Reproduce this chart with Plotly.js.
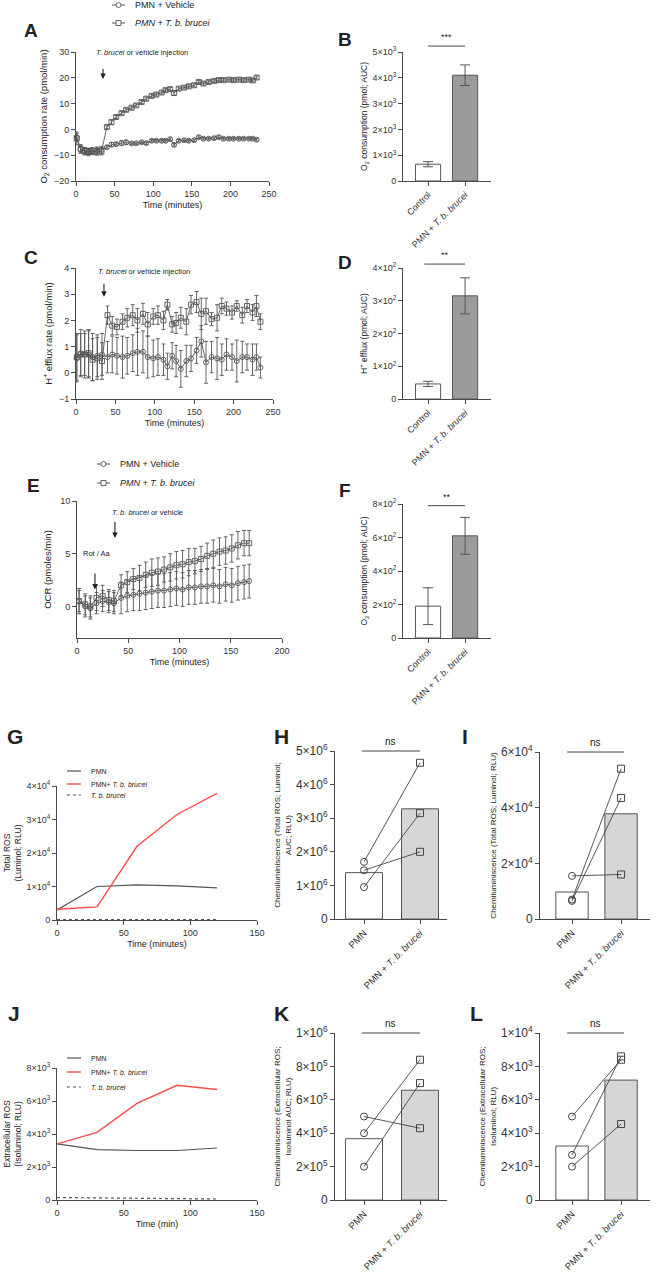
<!DOCTYPE html>
<html><head><meta charset="utf-8">
<script src="https://cdn.plot.ly/plotly-3.0.1.min.js"></script>
<style>html,body{margin:0;padding:0;background:#fff}#chart{width:656px;height:1272px}</style>
</head><body><div id="chart"></div>
<script>
// ---------------- DATA ----------------
// Panel A: O2 consumption rate (pmol/min)
const timeA = [1,6,11,16,21,27,33,40,46,52,59,65,72,78,85,91,98,104,111,116,122,127,133,140,146,153,159,165,172,179,185,191,198,204,211,217,224,229,234];
const vehA = [-3.0,-7.8,-8.2,-8.5,-8.3,-8.0,-7.9,-6.9,-5.9,-5.7,-5.3,-5.0,-5.4,-5.4,-5.0,-5.3,-4.4,-4.4,-4.4,-4.4,-3.8,-6.0,-4.4,-4.2,-4.4,-4.2,-3.0,-3.6,-3.6,-3.4,-3.0,-3.6,-3.6,-3.6,-3.6,-3.6,-3.6,-3.6,-4.0];
const vehAerr = [1.5,1.4,1.2,1.2,1.2,1.2,1.3,0.6,0.8,0.6,0.9,0.8,0.5,0.5,0.5,0.5,0.5,0.5,0.5,0.5,0.5,0.5,0.5,0.5,0.5,0.5,0.5,0.5,0.5,0.5,0.5,0.5,0.5,0.5,0.5,0.5,0.5,0.5,0.5];
const tbA = [-3.5,-7.5,-8.5,-8.8,-8.5,-8.7,-8.5,0.9,2.8,4.8,6.3,7.6,8.4,9.3,10.6,11.9,13.0,13.5,14.3,15.2,15.6,14.1,15.8,16.2,16.7,17.1,18.4,17.8,18.4,18.8,19.1,19.1,19.3,19.1,19.3,19.1,19.3,19.0,20.1];
const tbAerr = [2.5,1.6,1.4,1.4,1.3,1.3,1.4,0.7,0.8,0.6,0.6,0.6,0.6,0.6,0.6,0.6,0.6,0.6,0.6,0.6,0.6,0.8,0.6,0.6,0.6,0.6,0.6,0.6,0.6,0.6,0.6,0.6,0.6,0.6,0.6,0.6,0.6,0.6,0.6];
// Panel C: H+ efflux rate (pmol/min)
const vehC = [0.55,0.75,0.7,0.7,0.6,0.65,0.7,0.6,0.7,0.65,0.6,0.65,0.75,0.8,0.8,0.6,0.55,0.6,0.5,0.25,0.65,0.45,0.15,0.45,0.55,0.85,1.2,0.4,0.6,0.55,0.5,0.7,0.6,0.45,0.6,0.6,0.5,0.6,0.2];
const vehCerr = [0.9,0.9,0.8,0.9,0.9,0.8,0.8,0.6,0.7,0.7,0.8,0.7,0.7,0.9,0.8,0.8,0.7,0.7,0.6,0.5,0.5,0.6,0.7,0.6,0.5,0.5,0.6,0.8,0.6,0.8,0.6,0.6,0.5,0.8,0.6,0.5,0.6,0.5,0.4];
const tbC = [0.6,0.7,0.7,0.75,0.5,0.55,0.45,2.2,1.8,1.75,1.95,2.1,2.2,2.0,2.25,1.85,2.15,2.2,2.0,2.6,1.85,1.9,2.1,1.95,2.6,2.7,2.25,2.35,2.05,2.1,2.55,2.45,2.3,2.55,2.2,2.55,2.3,2.55,1.95];
const tbCerr = [0.9,0.8,0.9,0.9,0.8,0.8,0.7,0.35,0.35,0.3,0.3,0.35,0.4,0.45,0.4,0.45,0.3,0.35,0.35,0.2,0.3,0.4,0.4,0.5,0.35,0.4,0.6,0.5,0.25,0.5,0.3,0.25,0.25,0.2,0.3,0.25,0.3,0.4,0.3];
// Panel E: OCR (pmoles/min)
const timeE = [2,8,13,19,25,31,36,43,49,55,61,67,73,79,85,91,97,103,109,115,121,127,133,139,145,151,157,163,168];
const vehE = [0.5,0.0,-0.2,0.3,0.5,0.4,0.3,0.8,1.0,1.1,1.2,1.3,1.4,1.5,1.5,1.6,1.7,1.6,1.8,1.8,1.9,1.9,2.0,1.9,2.1,2.0,2.2,2.3,2.4];
const vehEerr = [1.0,1.0,1.0,1.0,1.0,1.0,1.0,1.5,1.5,1.5,1.6,1.6,1.6,1.6,1.6,1.6,1.6,1.6,1.6,1.6,1.6,1.6,1.6,1.6,1.6,1.6,1.6,1.6,1.6];
const tbE = [0.5,0.2,0.0,0.8,1.0,0.6,0.5,2.0,2.3,2.6,2.7,3.0,3.2,3.3,3.5,3.7,3.9,4.0,4.2,4.3,4.5,4.8,5.0,5.2,5.3,5.5,5.8,6.0,6.0];
const tbEerr = [1.2,1.0,1.0,1.2,1.0,1.0,1.0,1.0,1.0,1.0,1.2,1.2,1.3,1.3,1.2,1.3,1.3,1.3,1.3,1.2,1.2,1.2,1.3,1.3,1.3,1.3,1.3,1.2,1.2];
// Panels B, D, F: AUC bars
const catsAUC = ['Control', 'PMN + <i>T. b. brucei</i>'];
const meanB = [650, 4100], errB = [100, 400];
const meanD = [46, 315], errD = [8, 55];
const meanF = [190, 610], errF = [110, 110];
// Panels G, J: ROS kinetics
const timeROS = [0, 30, 60, 90, 120];
const pmnG = [3000, 10000, 10500, 10200, 9600];
const pmnTbG = [3200, 3900, 22000, 31500, 37800];
const tbOnlyG = [150, 120, 100, 100, 100];
const pmnJ = [3400, 3050, 3000, 3000, 3150];
const pmnTbJ = [3400, 4100, 5850, 6950, 6700];
const tbOnlyJ = [150, 120, 100, 80, 60];
// Panels H, I, K, L: paired chemiluminescence
const catsROS = ['PMN', 'PMN + <i>T. b. brucei</i>'];
const barH = [1.38e6, 3.28e6], pmnH = [1.7e6, 1.45e6, 0.95e6], tbH = [4.65e6, 2.0e6, 3.15e6];
const barI = [0.97e4, 3.78e4], pmnI = [1.55e4, 0.7e4, 0.65e4], tbI = [1.6e4, 5.4e4, 4.35e4];
const barK = [3.67e5, 6.57e5], pmnK = [5.0e5, 4.0e5, 2.0e5], tbK = [4.3e5, 8.4e5, 7.0e5];
const barL = [3.23e3, 7.18e3], pmnL = [5.0e3, 2.7e3, 2.0e3], tbL = [8.4e3, 8.6e3, 4.55e3];
// tick labels
const tickB = ['0','1×10<sup>3</sup>','2×10<sup>3</sup>','3×10<sup>3</sup>','4×10<sup>3</sup>','5×10<sup>3</sup>'];
const tickD = ['0','1×10<sup>2</sup>','2×10<sup>2</sup>','3×10<sup>2</sup>','4×10<sup>2</sup>'];
const tickF = ['0','2×10<sup>2</sup>','4×10<sup>2</sup>','6×10<sup>2</sup>','8×10<sup>2</sup>'];
const tickG = ['0','1×10<sup>4</sup>','2×10<sup>4</sup>','3×10<sup>4</sup>','4×10<sup>4</sup>'];
const tickJ = ['0','2×10<sup>3</sup>','4×10<sup>3</sup>','6×10<sup>3</sup>','8×10<sup>3</sup>'];
const tickH = ['0','1×10<sup>6</sup>','2×10<sup>6</sup>','3×10<sup>6</sup>','4×10<sup>6</sup>','5×10<sup>6</sup>'];
const tickI = ['0','2×10<sup>4</sup>','4×10<sup>4</sup>','6×10<sup>4</sup>'];
const tickK = ['0','2×10<sup>5</sup>','4×10<sup>5</sup>','6×10<sup>5</sup>','8×10<sup>5</sup>','1×10<sup>6</sup>'];
const tickL = ['0','2×10<sup>3</sup>','4×10<sup>3</sup>','6×10<sup>3</sup>','8×10<sup>3</sup>','1×10<sup>4</sup>'];

// ---------------- LAYOUT ----------------
const W = 656, H = 1272;
const FONT = 'Liberation Sans, Arial, sans-serif';
const AX = '#4a4a4a';
const P = {
  A:{n:1,  x:[76,269],  y:[52,181],   xr:[0,250],        yr:[-20,30]},
  B:{n:2,  x:[403,491], y:[52,181],   xr:[-0.676,1.70],  yr:[0,5000]},
  C:{n:3,  x:[76,273],  y:[268,399],  xr:[0,250],        yr:[-1,4]},
  D:{n:4,  x:[403,491], y:[268,399],  xr:[-0.676,1.70],  yr:[0,400]},
  E:{n:5,  x:[77,282],  y:[501,638],  xr:[0,200],        yr:[-3,10]},
  F:{n:6,  x:[403,491], y:[504,638],  xr:[-0.676,1.70],  yr:[0,800]},
  G:{n:7,  x:[57,257],  y:[786,920],  xr:[0,150],        yr:[0,40000]},
  H:{n:8,  x:[335,447], y:[751,919],  xr:[-0.518,1.482], yr:[0,5e6]},
  I:{n:9,  x:[540,650], y:[752,919],  xr:[-0.653,1.59],  yr:[0,6e4]},
  J:{n:10, x:[57,257],  y:[1068,1200],xr:[0,150],        yr:[0,8000]},
  K:{n:11, x:[335,447], y:[1033,1200],xr:[-0.518,1.482], yr:[0,1e6]},
  L:{n:12, x:[540,650], y:[1033,1200],xr:[-0.653,1.59],  yr:[0,1e4]}
};
const sfx = k => P[k].n === 1 ? '' : String(P[k].n);
const xa = k => 'x' + sfx(k), ya = k => 'y' + sfx(k);
const toPX = (k, v) => { const p = P[k]; return (p.x[0] + (v - p.xr[0]) / (p.xr[1] - p.xr[0]) * (p.x[1] - p.x[0])) / W; };
const toPY = (k, v) => { const p = P[k]; return 1 - (p.y[1] - (v - p.yr[0]) / (p.yr[1] - p.yr[0]) * (p.y[1] - p.y[0])) / H; };
const px = x => x / W, py = y => 1 - y / H;

function baseAx(fs) {
  return {showline:true, linecolor:AX, linewidth:1, ticks:'outside', ticklen:4, tickwidth:1, tickcolor:AX,
    showgrid:false, zeroline:false, fixedrange:true, tickfont:{family:FONT, size:fs||9, color:'#333'}};
}
const layout = {width:W, height:H, margin:{l:0,r:0,t:0,b:0}, paper_bgcolor:'#fff', plot_bgcolor:'rgba(0,0,0,0)',
  showlegend:false, font:{family:FONT, color:'#222', size:9}, annotations:[], shapes:[]};

const axOpts = {
  A:{x:{tickvals:[0,50,100,150,200,250], title:{text:'Time (minutes)', font:{size:9}, standoff:3}},
     y:{tickvals:[-20,-10,0,10,20,30], title:{text:'O<sub>2</sub> consumption rate (pmol/min)', font:{size:9.5}, standoff:4}}},
  B:{x:{tickvals:[0,1], ticktext:catsAUC, tickangle:-45}, y:{tickvals:[0,1000,2000,3000,4000,5000], ticktext:tickB, title:{text:'O<sub>2</sub> consumption (pmol; AUC)', font:{size:8.5}, standoff:3}}},
  C:{x:{tickvals:[0,50,100,150,200,250], title:{text:'Time (minutes)', font:{size:9}, standoff:3}},
     y:{tickvals:[-1,0,1,2,3,4], title:{text:'H<sup>+</sup> efflux rate (pmol/min)', font:{size:9.5}, standoff:4}}},
  D:{x:{tickvals:[0,1], ticktext:catsAUC, tickangle:-45}, y:{tickvals:[0,100,200,300,400], ticktext:tickD, title:{text:'H<sup>+</sup> efflux (pmol; AUC)', font:{size:8.5}, standoff:3}}},
  E:{x:{tickvals:[0,50,100,150,200], title:{text:'Time (minutes)', font:{size:9}, standoff:3}},
     y:{tickvals:[0,5,10], title:{text:'OCR (pmoles/min)', font:{size:9.5}, standoff:6}}},
  F:{x:{tickvals:[0,1], ticktext:catsAUC, tickangle:-45}, y:{tickvals:[0,200,400,600,800], ticktext:tickF, title:{text:'O<sub>2</sub> consumption (pmol; AUC)', font:{size:8.5}, standoff:3}}},
  G:{x:{tickvals:[0,50,100,150], title:{text:'Time (minutes)', font:{size:9}, standoff:3}},
     y:{tickvals:[0,10000,20000,30000,40000], ticktext:tickG, title:{text:'Total ROS<br>(Luminol; RLU)', font:{size:8.5}, standoff:3}}},
  H:{x:{tickvals:[0,1], ticktext:catsROS, tickangle:-45, tickfont:{family:FONT,size:9.5,color:'#333'}},
     y:{tickvals:[0,1e6,2e6,3e6,4e6,5e6], ticktext:tickH, tickfont:{family:FONT,size:12,color:'#333'}, title:{text:'Chemiluminiscence (Total ROS; Luminol;<br>AUC; RLU)', font:{size:8}, standoff:3}}},
  I:{x:{tickvals:[0,1], ticktext:catsROS, tickangle:-45, tickfont:{family:FONT,size:9.5,color:'#333'}},
     y:{tickvals:[0,2e4,4e4,6e4], ticktext:tickI, tickfont:{family:FONT,size:12,color:'#333'}, title:{text:'Chemiluminiscence (Total ROS; Luminol; RLU)', font:{size:8}, standoff:3}}},
  J:{x:{tickvals:[0,50,100,150], title:{text:'Time (min)', font:{size:9}, standoff:3}},
     y:{tickvals:[0,2000,4000,6000,8000], ticktext:tickJ, title:{text:'Extracellular ROS<br>(Isoluminol; RLU)', font:{size:8.5}, standoff:3}}},
  K:{x:{tickvals:[0,1], ticktext:catsROS, tickangle:-45, tickfont:{family:FONT,size:9.5,color:'#333'}},
     y:{tickvals:[0,2e5,4e5,6e5,8e5,1e6], ticktext:tickK, tickfont:{family:FONT,size:12,color:'#333'}, title:{text:'Chemiluminiscence (Extracellular ROS;<br>Isoluminol AUC; RLU)', font:{size:8}, standoff:3}}},
  L:{x:{tickvals:[0,1], ticktext:catsROS, tickangle:-45, tickfont:{family:FONT,size:9.5,color:'#333'}},
     y:{tickvals:[0,2e3,4e3,6e3,8e3,1e4], ticktext:tickL, tickfont:{family:FONT,size:12,color:'#333'}, title:{text:'Chemiluminiscence (Extracellular ROS;<br>Isoluminol; RLU)', font:{size:8}, standoff:3}}}
};
for (const k in P) {
  const p = P[k], s = sfx(k);
  layout['xaxis' + s] = Object.assign(baseAx(), {domain:[p.x[0]/W, p.x[1]/W], range:p.xr, anchor:'y' + s, tickmode:'array'}, axOpts[k].x);
  layout['yaxis' + s] = Object.assign(baseAx(), {domain:[1 - p.y[1]/H, 1 - p.y[0]/H], range:p.yr, anchor:'x' + s, tickmode:'array'}, axOpts[k].y);
}

// ---------------- TRACES ----------------
const traces = [];
const MK = '#555';
function seriesTrace(k, x, y, err, sym, name) {
  return {type:'scatter', mode:'lines+markers', x:x, y:y, name:name, xaxis:xa(k), yaxis:ya(k), cliponaxis:false,
    line:{color:MK, width:0.9}, marker:{symbol:sym, size:5, color:MK, line:{width:0.9, color:MK}},
    error_y:{type:'data', array:err, visible:true, color:MK, thickness:0.9, width:2}};
}
traces.push(seriesTrace('A', timeA, vehA, vehAerr, 'circle-open', 'PMN + Vehicle'));
traces.push(seriesTrace('A', timeA, tbA, tbAerr, 'square-open', 'PMN + T. b. brucei'));
traces.push(seriesTrace('C', timeA, vehC, vehCerr, 'circle-open', 'PMN + Vehicle'));
traces.push(seriesTrace('C', timeA, tbC, tbCerr, 'square-open', 'PMN + T. b. brucei'));
traces.push(seriesTrace('E', timeE, vehE, vehEerr, 'circle-open', 'PMN + Vehicle'));
traces.push(seriesTrace('E', timeE, tbE, tbEerr, 'square-open', 'PMN + T. b. brucei'));

function aucBars(k, means, errs) {
  traces.push({type:'bar', x:[0,1], y:means, width:0.68, xaxis:xa(k), yaxis:ya(k),
    marker:{color:['#ffffff','#9b9b9b'], line:{color:'#555', width:1}},
    error_y:{type:'data', array:errs, visible:true, color:'#555', thickness:1, width:5}});
}
aucBars('B', meanB, errB); aucBars('D', meanD, errD); aucBars('F', meanF, errF);

function rosLines(k, pmn, both, tbo) {
  traces.push({type:'scatter', mode:'lines', x:timeROS, y:pmn, xaxis:xa(k), yaxis:ya(k), line:{color:'#555', width:1.2}, cliponaxis:false});
  traces.push({type:'scatter', mode:'lines', x:timeROS, y:both, xaxis:xa(k), yaxis:ya(k), line:{color:'#ff4a4a', width:1.4}, cliponaxis:false});
  traces.push({type:'scatter', mode:'lines', x:timeROS, y:tbo, xaxis:xa(k), yaxis:ya(k), line:{color:'#555', width:1.2, dash:'dot'}, cliponaxis:false});
}
rosLines('G', pmnG, pmnTbG, tbOnlyG); rosLines('J', pmnJ, pmnTbJ, tbOnlyJ);

function paired(k, bars, pmn, tb) {
  traces.push({type:'bar', x:[0,1], y:bars, width:0.66, xaxis:xa(k), yaxis:ya(k),
    marker:{color:['#ffffff','#d6d6d6'], line:{color:'#555', width:1}}});
  for (let i = 0; i < pmn.length; i++) {
    traces.push({type:'scatter', mode:'lines+markers', x:[0,1], y:[pmn[i], tb[i]], xaxis:xa(k), yaxis:ya(k), cliponaxis:false,
      line:{color:'#444', width:0.9}, marker:{symbol:['circle-open','square-open'], size:7, color:'#444', line:{width:1, color:'#444'}}});
  }
}
paired('H', barH, pmnH, tbH); paired('I', barI, pmnI, tbI); paired('K', barK, pmnK, tbK); paired('L', barL, pmnL, tbL);

// ---------------- ANNOTATIONS / SHAPES ----------------
const ann = layout.annotations, shp = layout.shapes;
function txt(x, y, text, size, opts) {
  ann.push(Object.assign({xref:'paper', yref:'paper', x:px(x), y:py(y), text:text, showarrow:false,
    font:{family:FONT, size:size, color:'#222'}, xanchor:'left', yanchor:'middle'}, opts || {}));
}
[['A',31,30],['B',345,40],['C',31,257],['D',345,262],['E',33,485],['F',345,490],
 ['G',15,737],['H',281,737],['I',465,737],['J',14,1013],['K',281,1013],['L',476,1013]].forEach(d => {
  txt(d[1], d[2], '<b>' + d[0] + '</b>', d[0] < 'G' ? 19 : 21, {xanchor:'center'});
});
function legendKey(x0, x1, y, sym, text, fs, dash, color, lw) {
  shp.push({type:'line', xref:'paper', yref:'paper', x0:px(x0), x1:px(x1), y0:py(y), y1:py(y), line:{color:color, width:lw || 1, dash:dash || 'solid'}});
  if (sym) {
    const xc = px((x0 + x1) / 2), yc = py(y);
    shp.push({type:sym, xref:'paper', yref:'paper', xsizemode:'pixel', ysizemode:'pixel', xanchor:xc, yanchor:yc,
      x0:-2.5, x1:2.5, y0:-2.5, y1:2.5, fillcolor:'#fff', line:{color:color, width:0.9}});
  }
  txt(x1 + 8, y, text, fs);
}
legendKey(112, 125, 5, 'circle', 'PMN + Vehicle', 9, null, MK);
legendKey(112, 125, 23, 'rect', '<i>PMN + T. b. brucei</i>', 9, null, MK);
legendKey(97, 110, 464, 'circle', 'PMN + Vehicle', 9, null, MK);
legendKey(97, 110, 483, 'rect', '<i>PMN + T. b. brucei</i>', 9, null, MK);
legendKey(67, 81, 771, null, 'PMN', 7, null, '#555', 1.2);
legendKey(67, 81, 784, null, 'PMN+ <i>T. b. brucei</i>', 7, null, '#ff4a4a', 1.4);
legendKey(67, 81, 795, null, '<i>T. b. brucei</i>', 7, 'dot', '#555', 1.2);
legendKey(67, 81, 1058, null, 'PMN', 7, null, '#555', 1.2);
legendKey(67, 81, 1072, null, 'PMN+ <i>T. b. brucei</i>', 7, null, '#ff4a4a', 1.4);
legendKey(67, 81, 1087, null, '<i>T. b. brucei</i>', 7, 'dot', '#555', 1.2);

function arrow(k, xv, yv, len) {
  ann.push({xref:xa(k), yref:ya(k), x:xv, y:yv, ax:0, ay:-len, showarrow:true, arrowhead:2, arrowsize:1, arrowwidth:1.1, arrowcolor:'#222', text:' ', font:{size:1}});
}
txt(142, 53, '<i>T. brucei</i> or vehicle injection', 7.5, {xanchor:'center'});
arrow('A', 35, 19.5, 12);
txt(144, 271, '<i>T. brucei</i> or vehicle injection', 7.5, {xanchor:'center'});
arrow('C', 35.5, 2.9, 15);
txt(147, 512, '<i>T. b. brucei</i> or vehicle', 7.5, {xanchor:'center'});
arrow('E', 37, 6.5, 18);
txt(97, 553, 'Rot / Aa', 7.5, {xanchor:'center'});
arrow('E', 17.5, 1.6, 18);

function sig(k, yv, label, x0, x1) {
  shp.push({type:'line', xref:'paper', yref:'paper', x0:toPX(k, x0), x1:toPX(k, x1), y0:toPY(k, yv), y1:toPY(k, yv), line:{color:'#444', width:1}});
  ann.push({xref:'paper', yref:'paper', x:(toPX(k, x0) + toPX(k, x1)) / 2, y:toPY(k, yv), yshift:2, text:label, showarrow:false,
    xanchor:'center', yanchor:'bottom', font:{family:FONT, size:label === 'ns' ? 10 : 9, color:'#222'}});
}
sig('B', 5230, '***', 0, 1);
sig('D', 412, '**', -0.1, 1);
sig('F', 790, '**', 0, 1);
sig('H', 5e6, 'ns', -0.04, 1);
sig('I', 6e4, 'ns', -0.1, 1.06);
sig('K', 1e6, 'ns', -0.04, 1);
sig('L', 1e4, 'ns', -0.1, 1.06);

Plotly.newPlot('chart', traces, layout, {staticPlot:true, displayModeBar:false});
</script></body></html>
